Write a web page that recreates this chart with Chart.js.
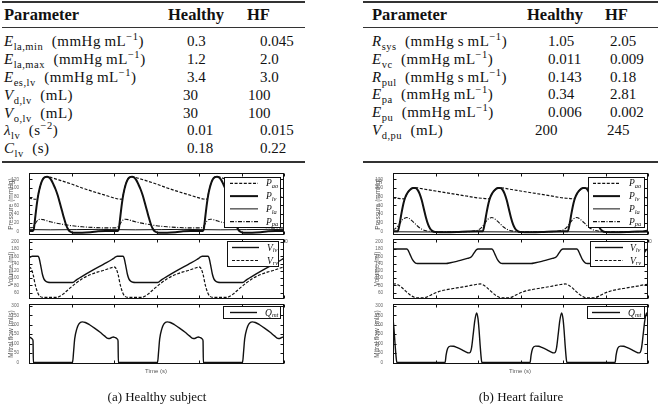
<!DOCTYPE html>
<html><head><meta charset="utf-8">
<script src="https://cdn.jsdelivr.net/npm/chart.js@4.4.1/dist/chart.umd.min.js"></script>
<style>
html,body{margin:0;padding:0;background:#fff;}
body{width:658px;height:413px;position:relative;overflow:hidden;font-family:"Liberation Serif","DejaVu Serif","Times New Roman",serif;color:#111;}
.rule{position:absolute;background:#333;}
.cell{position:absolute;font-family:"Liberation Serif","DejaVu Serif",serif;font-size:15px;line-height:18px;white-space:nowrap;}
.par{letter-spacing:0.5px;}
.hd{font-weight:bold;font-size:16.5px;letter-spacing:0;}
.cell sub,.cell sup{font-size:10.5px;line-height:0;}
canvas{position:absolute;}
.cap{position:absolute;font-family:"Liberation Serif","DejaVu Serif",serif;font-size:13px;line-height:18px;width:220px;text-align:center;}
.xt{position:absolute;font-family:"Liberation Sans","DejaVu Sans",sans-serif;font-size:6px;line-height:8px;color:#555;width:60px;text-align:center;}
.tiny{position:absolute;font-family:"Liberation Sans","DejaVu Sans",sans-serif;font-size:5px;line-height:6px;color:#555;}
svg{position:absolute;overflow:visible;}
</style>
</head><body>
<script>
// ---------------- DATA ----------------
const leftParams = ['<i>E</i><sub>la,min</sub>&nbsp; (mmHg&#8201;mL<sup>−1</sup>)','<i>E</i><sub>la,max</sub>&nbsp; (mmHg&#8201;mL<sup>−1</sup>)','<i>E</i><sub>es,lv</sub>&nbsp; (mmHg&#8201;mL<sup>−1</sup>)','<i>V</i><sub>d,lv</sub>&nbsp; (mL)','<i>V</i><sub>o,lv</sub>&nbsp; (mL)','<i>λ</i><sub>lv</sub>&nbsp; (s<sup>−2</sup>)','<i>C</i><sub>lv</sub>&nbsp; (s)'];
const leftHealthy = ['0.3','1.2','3.4','30','30','0.01','0.18'];
const leftHF = ['0.045','2.0','3.0','100','100','0.015','0.22'];
const rightParams = ['<i>R</i><sub>sys</sub>&nbsp; (mmHg&#8201;s&#8201;mL<sup>−1</sup>)','<i>E</i><sub>vc</sub>&nbsp; (mmHg&#8201;mL<sup>−1</sup>)','<i>R</i><sub>pul</sub>&nbsp; (mmHg&#8201;s&#8201;mL<sup>−1</sup>)','<i>E</i><sub>pa</sub>&nbsp; (mmHg&#8201;mL<sup>−1</sup>)','<i>E</i><sub>pu</sub>&nbsp; (mmHg&#8201;mL<sup>−1</sup>)','<i>V</i><sub>d,pu</sub>&nbsp; (mL)'];
const rightHealthy = ['1.05','0.011','0.143','0.34','0.006','200'];
const rightHF = ['2.05','0.009','0.18','2.81','0.002','245'];

const timeTicks = [0,0.4,0.8,1.2,1.6,2.0,2.4];
const pressureTicks = [0,20,40,60,80,100,120];
const volumeTicks = [60,80,100,120,140,160,180,200];
const flowTicks = [0,50,100,150,200,250,300];

// Healthy subject (time s, value)
const pAoHealthy = [[0,77],[0.04,74.5],[0.075,74],[0.09,88],[0.11,108],[0.13,120],[0.15,125],[0.17,126],[0.19,125],[0.3,117],[0.4,109],[0.5,100],[0.6,92],[0.7,84.5],
 [0.8,77],[0.84,74.5],[0.875,74],[0.89,88],[0.91,108],[0.93,120],[0.95,125],[0.97,126],[0.99,125],[1.1,117],[1.2,109],[1.3,100],[1.4,92],[1.5,84.5],
 [1.6,77],[1.64,74.5],[1.675,74],[1.69,88],[1.71,108],[1.73,120],[1.75,125],[1.77,126],[1.79,125],[1.9,117],[2.0,109],[2.1,100],[2.2,92],[2.3,84.5],[2.4,77]];
const pLvHealthy = [[0,1],[0.035,1],[0.045,5],[0.06,35],[0.075,65],[0.09,88],[0.11,108],[0.13,120],[0.15,125],[0.17,126],[0.19,124],[0.21,118],[0.23,108],[0.25,97],[0.27,83],[0.29,66],[0.31,48],[0.33,30],[0.35,14],[0.37,4],[0.39,-1],[0.42,-3],[0.5,-3],[0.58,-2],[0.65,0],[0.72,1],
 [0.8,1],[0.835,1],[0.845,5],[0.86,35],[0.875,65],[0.89,88],[0.91,108],[0.93,120],[0.95,125],[0.97,126],[0.99,124],[1.01,118],[1.03,108],[1.05,97],[1.07,83],[1.09,66],[1.11,48],[1.13,30],[1.15,14],[1.17,4],[1.19,-1],[1.22,-3],[1.3,-3],[1.38,-2],[1.45,0],[1.52,1],
 [1.6,1],[1.635,1],[1.645,5],[1.66,35],[1.675,65],[1.69,88],[1.71,108],[1.73,120],[1.75,125],[1.77,126],[1.79,124],[1.81,118],[1.83,108],[1.85,97],[1.87,83],[1.89,66],[1.91,48],[1.93,30],[1.95,14],[1.97,4],[1.99,-1],[2.02,-3],[2.1,-3],[2.18,-2],[2.25,0],[2.32,1],[2.4,1]];
const pLaHealthy = [[0,4],[0.2,3.5],[0.45,4],[0.65,4.5],[0.8,4],[1.0,3.5],[1.25,4],[1.45,4.5],[1.6,4],[1.8,3.5],[2.05,4],[2.25,4.5],[2.4,4]];
const pPaHealthy = [[0,8],[0.03,9],[0.05,14],[0.07,22],[0.09,27],[0.11,28],[0.14,26.5],[0.2,22],[0.3,17],[0.4,13],[0.5,10.5],[0.6,9],[0.7,8],
 [0.8,8],[0.83,9],[0.85,14],[0.87,22],[0.89,27],[0.91,28],[0.94,26.5],[1.0,22],[1.1,17],[1.2,13],[1.3,10.5],[1.4,9],[1.5,8],
 [1.6,8],[1.63,9],[1.65,14],[1.67,22],[1.69,27],[1.71,28],[1.74,26.5],[1.8,22],[1.9,17],[2.0,13],[2.1,10.5],[2.2,9],[2.3,8],[2.4,8]];
const vLvHealthy = [[0,155],[0.015,158],[0.03,160],[0.085,160],[0.095,155],[0.11,135],[0.125,112],[0.14,98],[0.16,91],[0.18,88.5],[0.2,88],[0.41,88],[0.45,96],[0.5,105],[0.6,122],[0.7,138],[0.78,151],
 [0.8,155],[0.815,158],[0.83,160],[0.885,160],[0.895,155],[0.91,135],[0.925,112],[0.94,98],[0.96,91],[0.98,88.5],[1.0,88],[1.21,88],[1.25,96],[1.3,105],[1.4,122],[1.5,138],[1.58,151],
 [1.6,155],[1.615,158],[1.63,160],[1.685,160],[1.695,155],[1.71,135],[1.725,112],[1.74,98],[1.76,91],[1.78,88.5],[1.8,88],[2.01,88],[2.05,96],[2.1,105],[2.2,122],[2.3,138],[2.38,151],[2.4,155]];
const vRvHealthy = [[0,131],[0.02,126],[0.04,108],[0.06,80],[0.085,58],[0.1,51],[0.13,47],[0.26,47],[0.29,50],[0.32,56],[0.36,66],[0.4,76],[0.45,88],[0.5,98],[0.55,106],[0.6,112],[0.65,117],[0.7,121],[0.75,126],[0.79,130],
 [0.8,131],[0.82,126],[0.84,108],[0.86,80],[0.885,58],[0.9,51],[0.93,47],[1.06,47],[1.09,50],[1.12,56],[1.16,66],[1.2,76],[1.25,88],[1.3,98],[1.35,106],[1.4,112],[1.45,117],[1.5,121],[1.55,126],[1.59,130],
 [1.6,131],[1.62,126],[1.64,108],[1.66,80],[1.685,58],[1.7,51],[1.73,47],[1.86,47],[1.89,50],[1.92,56],[1.96,66],[2.0,76],[2.05,88],[2.1,98],[2.15,106],[2.2,112],[2.25,117],[2.3,121],[2.35,126],[2.39,130],[2.4,131]];
const qMtHealthy = [[0,134],[0.015,132],[0.03,125],[0.038,115],[0.041,0],[0.41,0],[0.42,60],[0.43,125],[0.45,178],[0.47,204],[0.5,215],[0.53,212],[0.57,200],[0.62,181],[0.67,160],[0.71,141],[0.74,128],[0.76,127],[0.78,133],[0.795,135],
 [0.8,134],[0.815,132],[0.83,125],[0.838,115],[0.841,0],[1.21,0],[1.22,60],[1.23,125],[1.25,178],[1.27,204],[1.3,215],[1.33,212],[1.37,200],[1.42,181],[1.47,160],[1.51,141],[1.54,128],[1.56,127],[1.58,133],[1.595,135],
 [1.6,134],[1.615,132],[1.63,125],[1.638,115],[1.641,0],[2.01,0],[2.02,60],[2.03,125],[2.05,178],[2.07,204],[2.1,215],[2.13,212],[2.17,200],[2.22,181],[2.27,160],[2.31,141],[2.34,128],[2.36,127],[2.38,133],[2.395,135],[2.4,134]];

// Heart failure (time s, value)
const pAoFailure = [[0,77],[0.05,76],[0.1,75],[0.115,78],[0.13,86],[0.15,93],[0.17,98],[0.19,100],[0.21,100.5],[0.3,97],[0.4,93],[0.5,89],[0.6,85],[0.7,81],
 [0.8,77],[0.85,76],[0.9,75],[0.915,78],[0.93,86],[0.95,93],[0.97,98],[0.99,100],[1.01,100.5],[1.1,97],[1.2,93],[1.3,89],[1.4,85],[1.5,81],
 [1.6,77],[1.65,76],[1.7,75],[1.715,78],[1.73,86],[1.75,93],[1.77,98],[1.79,100],[1.81,100.5],[1.9,97],[2.0,93],[2.1,89],[2.2,85],[2.3,81],[2.4,77]];
const pLvFailure = [[0,0],[0.045,0],[0.06,14],[0.08,42],[0.1,66],[0.115,78],[0.13,86],[0.15,93],[0.17,98],[0.19,100],[0.21,100],[0.23,96],[0.25,87],[0.27,72],[0.29,52],[0.31,32],[0.33,16],[0.35,6],[0.37,1],[0.4,-1.5],[0.5,-2],[0.6,-1.5],[0.7,-0.5],
 [0.8,0],[0.845,0],[0.86,14],[0.88,42],[0.9,66],[0.915,78],[0.93,86],[0.95,93],[0.97,98],[0.99,100],[1.01,100],[1.03,96],[1.05,87],[1.07,72],[1.09,52],[1.11,32],[1.13,16],[1.15,6],[1.17,1],[1.2,-1.5],[1.3,-2],[1.4,-1.5],[1.5,-0.5],
 [1.6,0],[1.645,0],[1.66,14],[1.68,42],[1.7,66],[1.715,78],[1.73,86],[1.75,93],[1.77,98],[1.79,100],[1.81,100],[1.83,96],[1.85,87],[1.87,72],[1.89,52],[1.91,32],[1.93,16],[1.95,6],[1.97,1],[2.0,-1.5],[2.1,-2],[2.2,-1.5],[2.3,-0.5],[2.4,0]];
const pLaFailure = [[0,-1],[0.4,-1.5],[0.8,-1],[1.2,-1.5],[1.6,-1],[2.0,-1.5],[2.4,-1]];
const pPaFailure = [[0,3],[0.03,8],[0.06,17],[0.09,27],[0.115,31],[0.13,32],[0.15,30],[0.18,24],[0.21,17],[0.24,10],[0.27,5],[0.3,2],[0.35,0],[0.45,-1],[0.7,-1],[0.77,1],
 [0.8,3],[0.83,8],[0.86,17],[0.89,27],[0.915,31],[0.93,32],[0.95,30],[0.98,24],[1.01,17],[1.04,10],[1.07,5],[1.1,2],[1.15,0],[1.25,-1],[1.5,-1],[1.57,1],
 [1.6,3],[1.63,8],[1.66,17],[1.69,27],[1.715,31],[1.73,32],[1.75,30],[1.78,24],[1.81,17],[1.84,10],[1.87,5],[1.9,2],[1.95,0],[2.05,-1],[2.3,-1],[2.37,1],[2.4,3]];
const vLvFailure = [[0,180],[0.13,180],[0.145,175],[0.165,162],[0.185,150],[0.205,143],[0.22,140.5],[0.24,140],[0.5,140],[0.54,142],[0.6,146],[0.65,150],[0.7,154],[0.725,156],[0.745,161],[0.765,170],[0.785,178],
 [0.8,180],[0.93,180],[0.945,175],[0.965,162],[0.985,150],[1.005,143],[1.02,140.5],[1.04,140],[1.3,140],[1.34,142],[1.4,146],[1.45,150],[1.5,154],[1.525,156],[1.545,161],[1.565,170],[1.585,178],
 [1.6,180],[1.73,180],[1.745,175],[1.765,162],[1.785,150],[1.805,143],[1.82,140.5],[1.84,140],[2.1,140],[2.14,142],[2.2,146],[2.25,150],[2.3,154],[2.325,156],[2.345,161],[2.365,170],[2.385,178],[2.4,180]];
const vRvFailure = [[0,83],[0.02,84],[0.05,81],[0.08,75],[0.11,67],[0.14,59],[0.17,52],[0.2,47.5],[0.23,45.5],[0.28,45.5],[0.31,47],[0.34,51],[0.38,57],[0.43,63],[0.5,68],[0.6,73],[0.7,78],[0.78,82.5],
 [0.8,83],[0.82,84],[0.85,81],[0.88,75],[0.91,67],[0.94,59],[0.97,52],[1.0,47.5],[1.03,45.5],[1.08,45.5],[1.11,47],[1.14,51],[1.18,57],[1.23,63],[1.3,68],[1.4,73],[1.5,78],[1.58,82.5],
 [1.6,83],[1.62,84],[1.65,81],[1.68,75],[1.71,67],[1.74,59],[1.77,52],[1.8,47.5],[1.83,45.5],[1.88,45.5],[1.91,47],[1.94,51],[1.98,57],[2.03,63],[2.1,68],[2.2,73],[2.3,78],[2.38,82.5],[2.4,83]];
const qMtFailure = [[0,232],[0.01,172],[0.02,92],[0.03,25],[0.036,0],[0.49,0],[0.5,40],[0.515,75],[0.54,87],[0.57,86],[0.6,80],[0.65,67],[0.69,55],[0.71,51],[0.725,53],[0.74,80],[0.755,150],[0.77,222],[0.787,263],
 [0.8,232],[0.81,172],[0.82,92],[0.83,25],[0.836,0],[1.29,0],[1.3,40],[1.315,75],[1.34,87],[1.37,86],[1.4,80],[1.45,67],[1.49,55],[1.51,51],[1.525,53],[1.54,80],[1.555,150],[1.57,222],[1.587,263],
 [1.6,232],[1.61,172],[1.62,92],[1.63,25],[1.636,0],[2.09,0],[2.1,40],[2.115,75],[2.14,87],[2.17,86],[2.2,80],[2.25,67],[2.29,55],[2.31,51],[2.325,53],[2.34,80],[2.355,150],[2.37,222],[2.387,263],[2.4,232]];

// ---------------- LAYOUT ----------------
const body = document.body;
function add(html){ body.insertAdjacentHTML('beforeend', html); }

function rule(x,y,w,h){ add(`<div class="rule" style="left:${x}px;top:${y}px;width:${w}px;height:${h}px"></div>`); }
rule(2,1,303,1.6); rule(2,26.5,303,0.9); rule(2,161,303,1.6);
rule(363,1,295,1.6); rule(363,26.5,295,0.9); rule(363,161,295,1.6);
function cell(x,yc,html,cls){ add(`<div class="cell ${cls||''}" style="left:${x}px;top:${yc-9}px">${html}</div>`); }
cell(4,15,'Parameter','hd'); cell(168,15,'Healthy','hd'); cell(247,15,'HF','hd');
cell(372,15,'Parameter','hd'); cell(527,15,'Healthy','hd'); cell(605,15,'HF','hd');
const leftRowY = [41,59,77,94.5,112.5,130,148];
leftParams.forEach((p,i)=>{
  cell(4,leftRowY[i],p,'par');
  cell(leftHealthy[i].includes('.')?187:183,leftRowY[i],leftHealthy[i]);
  cell(leftHF[i].includes('.')?260:248,leftRowY[i],leftHF[i]);
});
const rightRowY = [41,59,76.5,94,112,129.5];
rightParams.forEach((p,i)=>{
  cell(372,rightRowY[i],p,'par');
  cell(rightHealthy[i].includes('.')?548:535,rightRowY[i],rightHealthy[i]);
  cell(rightHF[i].includes('.')?610:607,rightRowY[i],rightHF[i]);
});

const panels = [
  {id:'pH', left:0,   top:168, h:72},
  {id:'vH', left:0,   top:234, h:70},
  {id:'qH', left:0,   top:299, h:70},
  {id:'pF', left:364, top:168, h:72},
  {id:'vF', left:364, top:234, h:70},
  {id:'qF', left:364, top:299, h:70}
];
panels.forEach(p=>add(`<canvas id="${p.id}" width="290" height="${p.h}" style="left:${p.left}px;top:${p.top}px"></canvas>`));

add(`<div class="xt" style="left:126px;top:367px">Time (s)</div>`);
add(`<div class="xt" style="left:490px;top:367px">Time (s)</div>`);
add(`<div class="tiny" style="left:285px;top:238px">0</div>`);
add(`<div class="tiny" style="left:649px;top:238px">0</div>`);
add(`<div class="cap" style="left:47px;top:388px">(a) Healthy subject</div>`);
add(`<div class="cap" style="left:411px;top:388px">(b) Heart failure</div>`);

const INK = '#111';
function legend(x,y,w,h,items,lx1,lx2,tx){
  const n = items.length, step = h/n;
  let s = `<svg style="left:${x}px;top:${y}px" width="${w}" height="${h}" viewBox="0 0 ${w} ${h}">`;
  s += `<rect x="0.5" y="0.5" width="${w-1}" height="${h-1}" fill="#fff" stroke="${INK}" stroke-width="1"/>`;
  items.forEach((it,i)=>{
    const yy = step*(i+0.5);
    s += `<line x1="${lx1}" y1="${yy}" x2="${lx2}" y2="${yy}" stroke="${INK}" stroke-width="${it.w}" stroke-dasharray="${it.dash.length?it.dash.join(' '):'none'}"/>`;
    s += `<text x="${tx}" y="${yy+3}" font-family="Liberation Serif, DejaVu Serif, serif" font-style="italic" font-size="9.5" fill="${INK}">${it.l}<tspan font-size="6.5" dy="1.8">${it.s}</tspan></text>`;
  });
  s += `</svg>`;
  add(s);
}
const ST = {
  ao:{w:1.2,dash:[3,1.6]}, lv:{w:2,dash:[]}, la:{w:1,dash:[]}, pa:{w:1.1,dash:[4,1.5,1,1.5]},
  vlv:{w:1.4,dash:[]}, vrv:{w:1.2,dash:[3,1.6]}, q:{w:1.4,dash:[]}
};
const pItems = [{l:'P',s:'ao',...ST.ao},{l:'P',s:'lv',...ST.lv},{l:'P',s:'la',...ST.la},{l:'P',s:'pa',...ST.pa}];
const vItems = [{l:'V',s:'lv',...ST.vlv},{l:'V',s:'rv',...ST.vrv}];
const qItems = [{l:'Q',s:'mt',...ST.q}];
legend(224,177,57,51,pItems,6,34,42);
legend(588,177,57,51,pItems,5,32,41);
legend(227,241,52,26,vItems,5,32,40);
legend(590,241,55,26,vItems,5,33,40);
legend(223,306,58,13,qItems,7,34,42);
legend(587,306,58,13,qItems,5,33,41);

// ---------------- CHARTS ----------------
const framePlugin = {
  id:'frame',
  afterDraw(chart, args, opts){
    const {ctx, chartArea:a, scales} = chart;
    const L=Math.round(a.left)+0.5, R=Math.round(a.right)-0.5, T=Math.round(a.top)+0.5, B=Math.round(a.bottom)-0.5;
    ctx.save();
    ctx.strokeStyle = INK; ctx.lineWidth = 1; ctx.setLineDash([]);
    ctx.strokeRect(L,T,R-L,B-T);
    ctx.beginPath();
    timeTicks.forEach(v=>{
      const px = Math.round(scales.x.getPixelForValue(v))+0.5;
      ctx.moveTo(px,T); ctx.lineTo(px,T+3);
      ctx.moveTo(px,B); ctx.lineTo(px,B-3);
    });
    opts.yTicks.forEach(v=>{
      const py = Math.round(scales.y.getPixelForValue(v))+0.5;
      ctx.moveTo(L,py); ctx.lineTo(L+3,py);
      ctx.moveTo(R,py); ctx.lineTo(R-3,py);
    });
    ctx.stroke();
    ctx.restore();
  }
};
function ds(pairs, st){
  return {data: pairs.map(p=>({x:p[0], y:p[1]})), borderColor:INK, borderWidth:st.w, borderDash:st.dash,
    pointRadius:0, fill:false, cubicInterpolationMode:'monotone', borderJoinStyle:'round'};
}
function makeChart(id, datasets, yMin, yMax, yTicks, title, titlePad){
  new Chart(document.getElementById(id), {
    type:'line',
    data:{datasets},
    options:{
      responsive:false, animation:false, events:[],
      layout:{padding:{left:0,right:6,top:3,bottom:3}},
      plugins:{legend:{display:false}, tooltip:{enabled:false}, frame:{yTicks}},
      scales:{
        x:{type:'linear', min:0, max:2.4, display:false},
        y:{type:'linear', min:yMin, max:yMax,
           afterFit(s){ s.width = 29; },
           afterBuildTicks(s){ s.ticks = yTicks.map(v=>({value:v})); },
           grid:{display:false}, border:{display:false},
           ticks:{font:{family:'Liberation Sans', size:4.6}, color:'#666', padding:2, autoSkip:false, maxRotation:0},
           title:{display:true, text:title, font:{family:'Liberation Sans', size:6.5}, color:'#555', padding:{top:titlePad, bottom:0}}
        }
      }
    },
    plugins:[framePlugin]
  });
}
makeChart('pH', [ds(pLaHealthy,ST.la), ds(pPaHealthy,ST.pa), ds(pLvHealthy,ST.lv), ds(pAoHealthy,ST.ao)], -9, 135, pressureTicks, 'Pressure (mmHg)', 7.5);
makeChart('vH', [ds(vLvHealthy,ST.vlv), ds(vRvHealthy,ST.vrv)], 42, 208, volumeTicks, 'Volume (ml)', 7.5);
makeChart('qH', [ds(qMtHealthy,ST.q)], -9, 311, flowTicks, 'Mitral flow (ml/s)', 7.5);
makeChart('pF', [ds(pLaFailure,ST.la), ds(pPaFailure,ST.pa), ds(pLvFailure,ST.lv), ds(pAoFailure,ST.ao)], -9, 135, pressureTicks, 'Pressure (mmHg)', 10);
makeChart('vF', [ds(vLvFailure,ST.vlv), ds(vRvFailure,ST.vrv)], 42, 208, volumeTicks, 'Volume (ml)', 9);
makeChart('qF', [ds(qMtFailure,ST.q)], -9, 311, flowTicks, 'Mitral flow (ml/s)', 9);
</script>
</body></html>
